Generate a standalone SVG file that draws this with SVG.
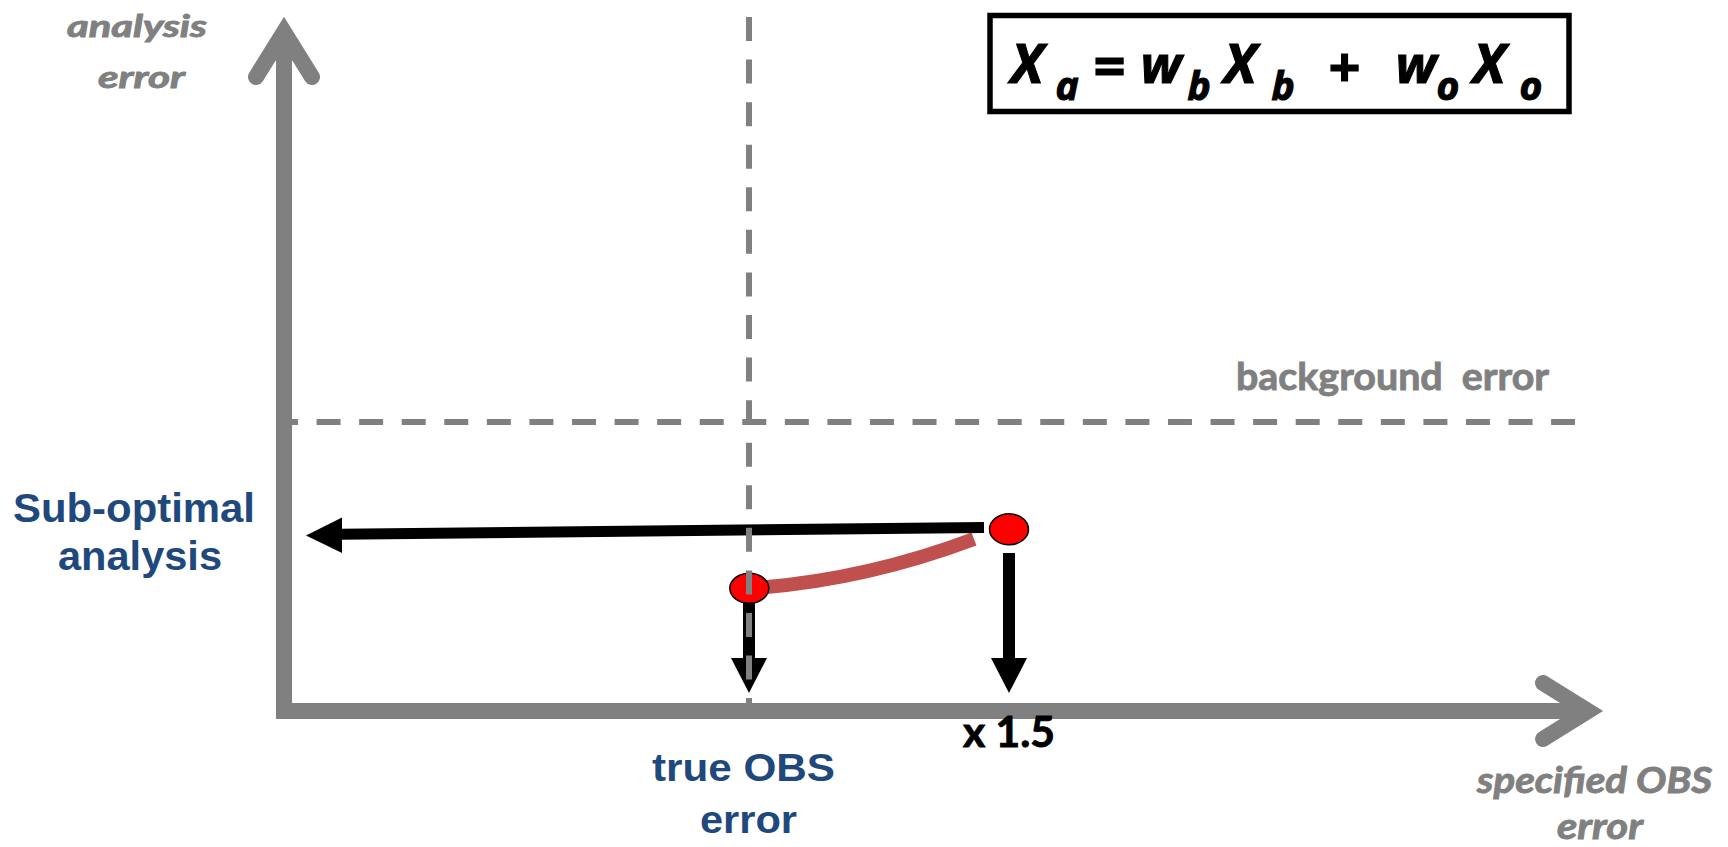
<svg xmlns="http://www.w3.org/2000/svg" width="1728" height="847" viewBox="0 0 1728 847">
<style>
.axis{stroke:#808080;stroke-width:16;fill:none}
.head{stroke:#808080;stroke-width:16;fill:none;stroke-linecap:round;stroke-linejoin:miter;stroke-miterlimit:10}
.dash{stroke:#808080;stroke-width:6;fill:none;stroke-dasharray:24 18.57}
.blk{stroke:#000;fill:none}
.dot{fill:#FF0000;stroke:#000;stroke-width:1.5}
.gray{font-family:Lato,"Open Sans",sans-serif;font-weight:700;fill:#808080;stroke:#808080;stroke-width:0.9}
.blue{font-family:"Liberation Sans",Arial,sans-serif;font-weight:700;fill:#1F497D}
.eq{font-family:"Open Sans",Lato,sans-serif;font-weight:700;font-style:italic;fill:#000;stroke:#000;stroke-width:1.1}
.x15{font-family:Lato,"Open Sans",sans-serif;font-weight:700;fill:#000;stroke:#000;stroke-width:0.9}
</style>
<rect width="1728" height="847" fill="#fff"/>
<g id="axes">
  <line class="dash" x1="292" y1="422" x2="1575" y2="422" stroke-dashoffset="18"/>
  <line class="axis" x1="284" y1="32" x2="284" y2="719"/>
  <path class="head" d="M256 77 L284 32 L312 77"/>
  <line class="axis" x1="276" y1="711" x2="1588" y2="711"/>
  <path class="head" d="M1543 683 L1588 711 L1543 739"/>
</g>
<g id="connectors">
  <path d="M755 588 Q865 580 974 539" stroke="#C0504D" stroke-width="14" fill="none"/>
  <line class="blk" x1="984" y1="527.5" x2="340" y2="534.3" stroke-width="11"/>
  <polygon points="306,535.5 342,517.5 342,553" fill="#000"/>
  <line class="blk" x1="749" y1="598" x2="749" y2="660" stroke-width="12"/>
  <polygon points="731,658 767,658 749,693" fill="#000"/>
  <line class="blk" x1="1009" y1="553" x2="1009" y2="660" stroke-width="12"/>
  <polygon points="991,658 1027,658 1009,693" fill="#000"/>
</g>
<g id="dot-true">
  <ellipse class="dot" cx="749.3" cy="588.3" rx="19.5" ry="15"/>
</g>
<g id="dot-specified">
  <ellipse class="dot" cx="1009" cy="529.3" rx="19.5" ry="15.5"/>
</g>
<g id="true-obs-line">
  <line class="dash" x1="749" y1="17" x2="749" y2="704"/>
</g>
<g id="equation">
  <rect x="990" y="15.5" width="579" height="96" fill="none" stroke="#000" stroke-width="5.5"/>
  <text class="eq" text-anchor="middle"><tspan x="1027" y="83" font-size="54">X</tspan><tspan x="1067" y="100" font-size="39">a</tspan><tspan x="1109" y="86" font-size="56">=</tspan><tspan x="1161" y="83" font-size="52">w</tspan><tspan x="1199" y="100" font-size="39">b</tspan><tspan x="1240" y="83" font-size="54">X</tspan><tspan x="1283" y="100" font-size="39">b</tspan><tspan x="1344" y="87" font-size="56">+</tspan><tspan x="1416" y="83" font-size="52">w</tspan><tspan x="1448" y="100" font-size="39">o</tspan><tspan x="1489" y="83" font-size="54">X</tspan><tspan x="1531" y="100" font-size="39">o</tspan></text>
</g>
<g id="label-analysis-error">
  <text class="gray" font-style="italic" font-size="31" x="67" y="37" textLength="140" lengthAdjust="spacingAndGlyphs">analysis</text>
  <text class="gray" font-style="italic" font-size="31" x="98" y="88" textLength="87" lengthAdjust="spacingAndGlyphs">error</text>
</g>
<g id="label-background">
  <text class="gray" font-size="38" x="1236" y="390" textLength="313" lengthAdjust="spacingAndGlyphs" xml:space="preserve">background  error</text>
</g>
<g id="label-suboptimal">
  <text class="blue" font-size="40" x="13" y="522" textLength="242" lengthAdjust="spacingAndGlyphs">Sub-optimal</text>
  <text class="blue" font-size="40" x="58" y="570" textLength="164" lengthAdjust="spacingAndGlyphs">analysis</text>
</g>
<g id="label-true-obs">
  <text class="blue" font-size="38" x="652" y="781" textLength="183" lengthAdjust="spacingAndGlyphs">true OBS</text>
  <text class="blue" font-size="38" x="700" y="833" textLength="97" lengthAdjust="spacingAndGlyphs">error</text>
</g>
<g id="label-x15">
  <text class="x15" font-size="42" x="963" y="747" textLength="92" lengthAdjust="spacingAndGlyphs">x 1.5</text>
</g>
<g id="label-specified">
  <text class="gray" font-style="italic" font-size="37" x="1477" y="793" textLength="235" lengthAdjust="spacingAndGlyphs">specified OBS</text>
  <text class="gray" font-style="italic" font-size="37" x="1557" y="839" textLength="86" lengthAdjust="spacingAndGlyphs">error</text>
</g>
</svg>
